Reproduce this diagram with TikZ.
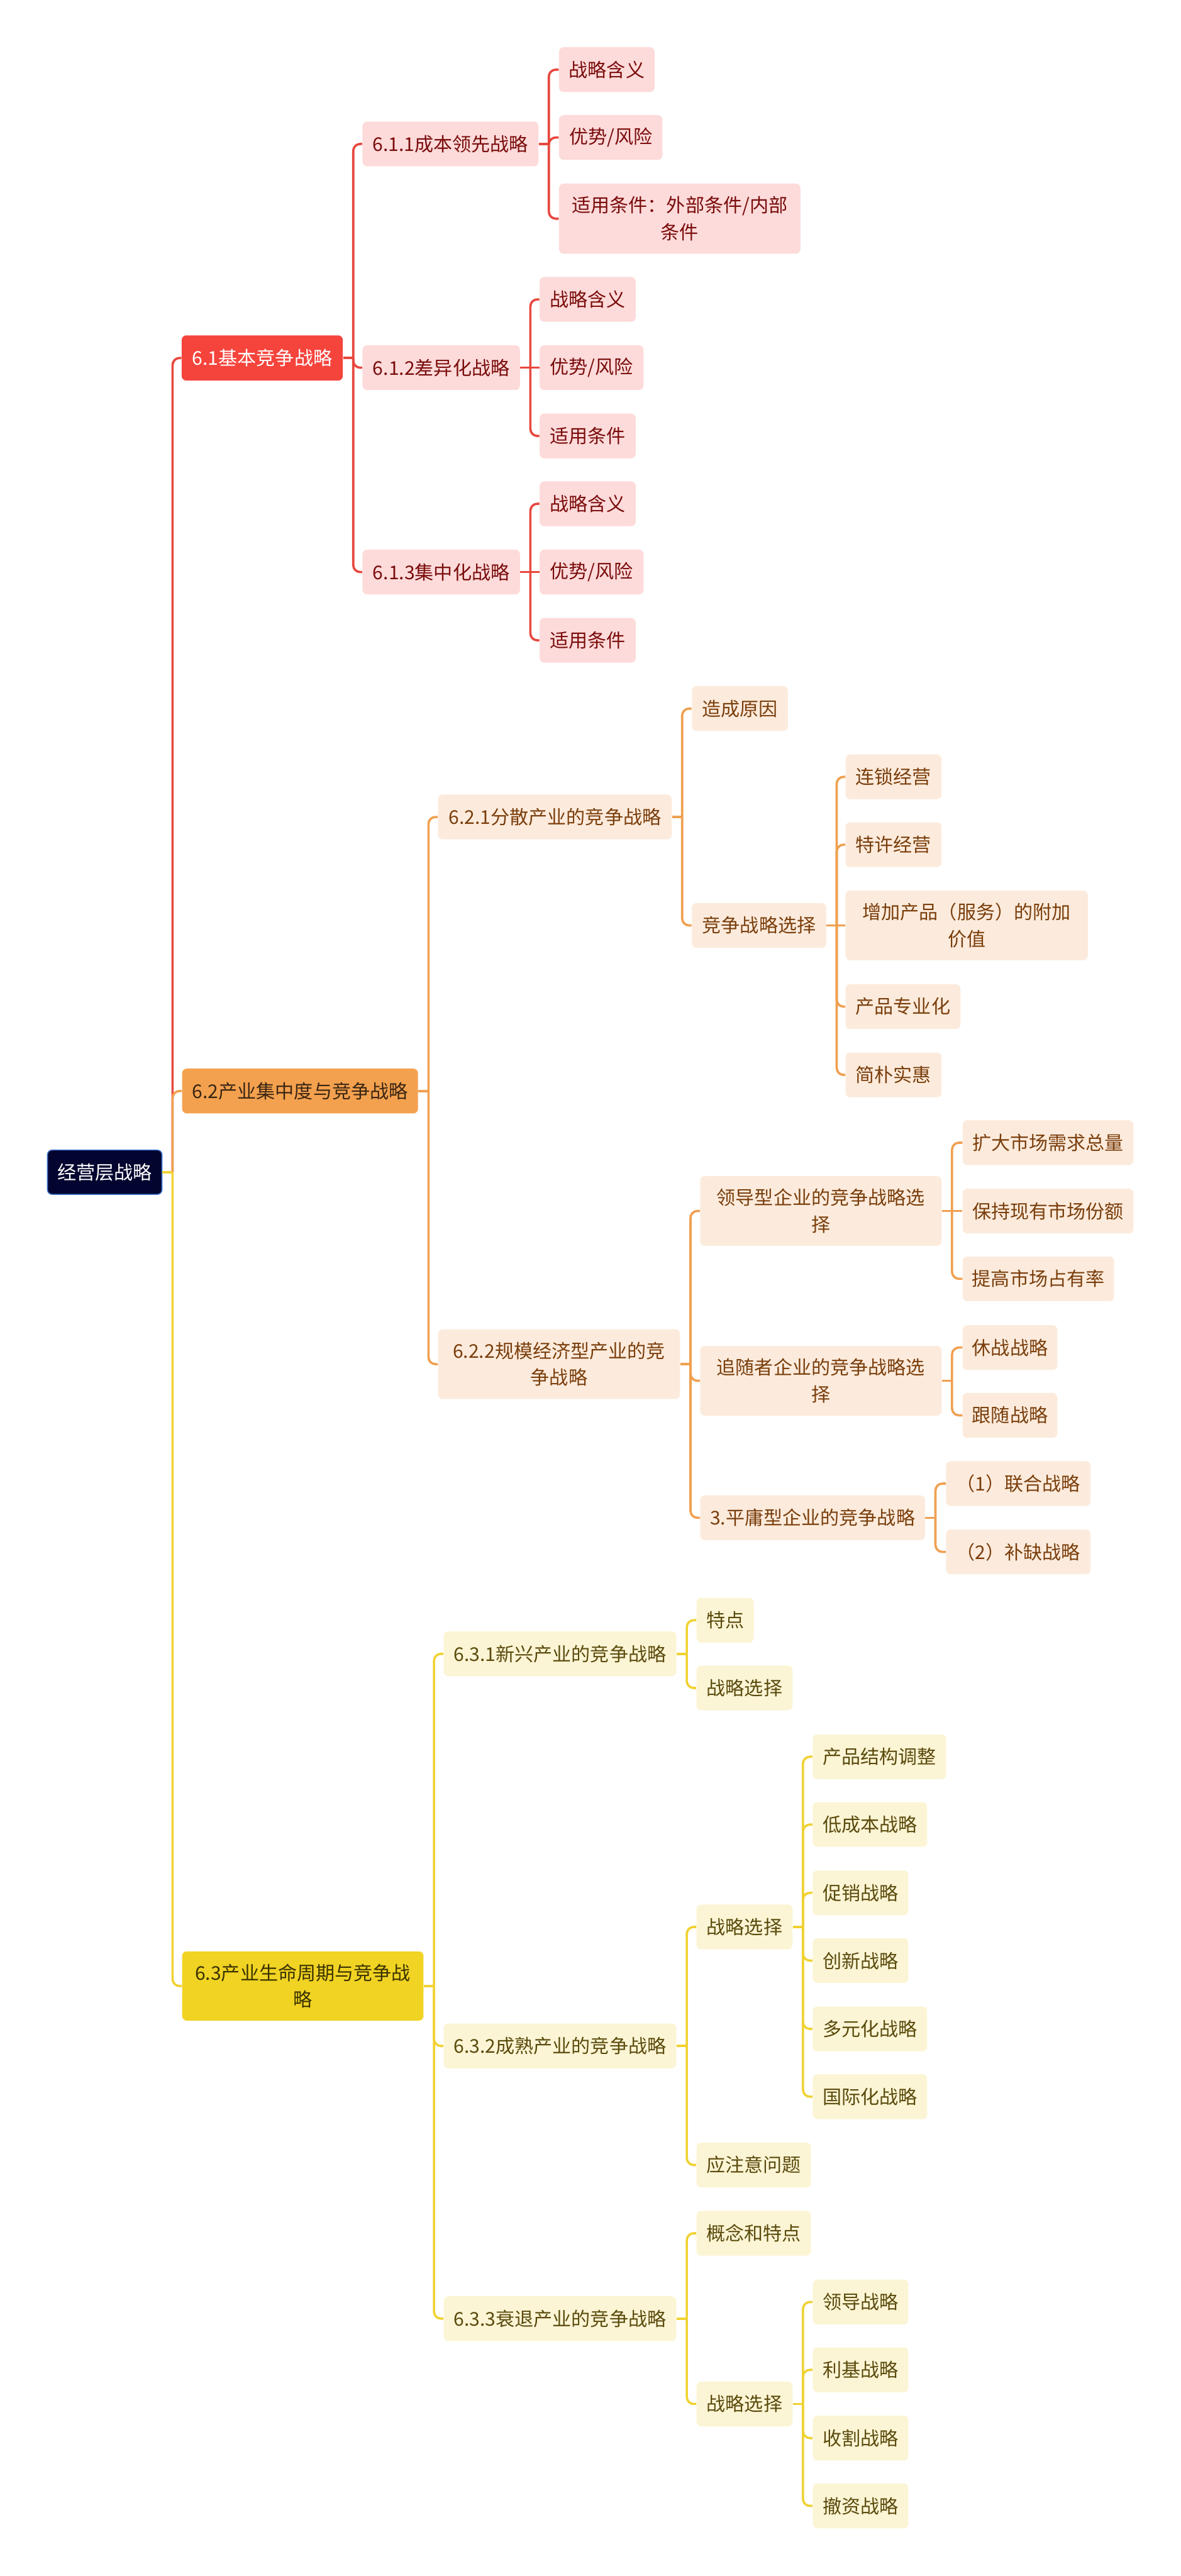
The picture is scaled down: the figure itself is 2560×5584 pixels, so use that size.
\documentclass[tikz,border=0pt]{standalone}
\usepackage{fontspec}
\newfontfamily\cjkfont{Noto Sans CJK SC}
\definecolor{rootfill}{HTML}{03042F}
\definecolor{rootborder}{HTML}{3D72CC}
\definecolor{redA}{HTML}{F5443C}
\definecolor{redL}{HTML}{FDDBDA}
\definecolor{redT}{HTML}{7A0C0C}
\definecolor{redLine}{HTML}{E8473E}
\definecolor{orgA}{HTML}{F4A14F}
\definecolor{orgAT}{HTML}{3A2612}
\definecolor{orgL}{HTML}{FCEBDC}
\definecolor{orgT}{HTML}{7A3E0C}
\definecolor{orgLine}{HTML}{F0A050}
\definecolor{yelA}{HTML}{F1D323}
\definecolor{yelAT}{HTML}{3A3200}
\definecolor{yelL}{HTML}{FCF5D5}
\definecolor{yelT}{HTML}{5A4A0C}
\definecolor{yelLine}{HTML}{F0D232}
\newcommand{\mystem}[2]{\coordinate (#2j) at ([xshift=0.22cm]#2.east); \draw[#1] (#2.east) -- (#2j);}
\newcommand{\mylink}[3]{\draw[#1] (#2j) |- (#3.west);}
\newcommand{\mystraight}[3]{\draw[#1] (#2j) -- (#3.west);}
\tikzset{
  basebox/.style={rounded corners=0.1cm, inner sep=0pt, align=center,
    font=\cjkfont\fontsize{11.67}{16.5}\selectfont},
  rootbox/.style={basebox, fill=rootfill, draw=rootborder, line width=0.6pt, text=white},
  redtop/.style={basebox, fill=redA, text=white},
  redsub/.style={basebox, fill=redL, text=redT},
  orgtop/.style={basebox, fill=orgA, text=orgAT},
  orgsub/.style={basebox, fill=orgL, text=orgT},
  yeltop/.style={basebox, fill=yelA, text=yelAT},
  yelsub/.style={basebox, fill=yelL, text=yelT},
  redln/.style={draw=redLine, line width=1.4pt, rounded corners=0.15cm},
  orgln/.style={draw=orgLine, line width=1.4pt, rounded corners=0.15cm},
  yelln/.style={draw=yelLine, line width=1.4pt, rounded corners=0.15cm},
}
\begin{document}
\begin{tikzpicture}[x=0.01cm, y=-0.01cm]
\fill[white] (0,0) rectangle (2560,5584);
\useasboundingbox (0,0) rectangle (2560,5584);

% root
\node[rootbox, minimum width=2.48cm, minimum height=0.96cm] (root) at (227,2541) {经营层战略};

% level 1
\node[redtop, minimum width=3.49cm, minimum height=0.98cm] (n61) at (568.5,776) {6.1基本竞争战略};
\node[orgtop, minimum width=5.11cm, minimum height=0.97cm] (n62) at (650.5,2365) {6.2产业集中度与竞争战略};
\node[yeltop, minimum width=5.23cm, minimum height=1.50cm] (n63) at (656.5,4305) {6.3产业生命周期与竞争战\\略};

% red branch
\node[redsub, minimum width=3.81cm, minimum height=0.97cm] (n611) at (976.5,312) {6.1.1成本领先战略};
\node[redsub, minimum width=3.41cm, minimum height=0.97cm] (n612) at (956.5,797) {6.1.2差异化战略};
\node[redsub, minimum width=3.41cm, minimum height=0.97cm] (n613) at (956.5,1240) {6.1.3集中化战略};
\node[redsub, minimum width=2.07cm, minimum height=0.97cm] (a1) at (1315.5,151) {战略含义};
\node[redsub, minimum width=2.24cm, minimum height=0.97cm] (a2) at (1324,298) {优势/风险};
\node[redsub, minimum width=5.23cm, minimum height=1.52cm] (a3) at (1473.5,474) {适用条件：外部条件/内部\\条件};
\node[redsub, minimum width=2.08cm, minimum height=0.97cm] (b1) at (1274,649) {战略含义};
\node[redsub, minimum width=2.25cm, minimum height=0.97cm] (b2) at (1282.5,797) {优势/风险};
\node[redsub, minimum width=2.08cm, minimum height=0.97cm] (b3) at (1274,945) {适用条件};
\node[redsub, minimum width=2.08cm, minimum height=0.97cm] (c1) at (1274,1092) {战略含义};
\node[redsub, minimum width=2.25cm, minimum height=0.97cm] (c2) at (1282.5,1240) {优势/风险};
\node[redsub, minimum width=2.08cm, minimum height=0.97cm] (c3) at (1274,1388) {适用条件};

% orange branch
\node[orgsub, minimum width=5.06cm, minimum height=0.97cm] (n621) at (1203,1771) {6.2.1分散产业的竞争战略};
\node[orgsub, minimum width=5.24cm, minimum height=1.51cm] (n622) at (1212,2957) {6.2.2规模经济型产业的竞\\争战略};
\node[orgsub, minimum width=2.08cm, minimum height=0.97cm] (o1) at (1604,1536) {造成原因};
\node[orgsub, minimum width=2.91cm, minimum height=0.97cm] (o2) at (1645.5,2006) {竞争战略选择};
\node[orgsub, minimum width=2.08cm, minimum height=0.97cm] (p1) at (1937,1684) {连锁经营};
\node[orgsub, minimum width=2.08cm, minimum height=0.97cm] (p2) at (1937,1831) {特许经营};
\node[orgsub, minimum width=5.25cm, minimum height=1.51cm] (p3) at (2095.5,2006) {增加产品（服务）的附加\\价值};
\node[orgsub, minimum width=2.49cm, minimum height=0.97cm] (p4) at (1957.5,2182) {产品专业化};
\node[orgsub, minimum width=2.08cm, minimum height=0.97cm] (p5) at (1937,2330) {简朴实惠};
\node[orgsub, minimum width=5.23cm, minimum height=1.51cm] (q1) at (1779.5,2625) {领导型企业的竞争战略选\\择};
\node[orgsub, minimum width=5.23cm, minimum height=1.51cm] (q2) at (1779.5,2993) {追随者企业的竞争战略选\\择};
\node[orgsub, minimum width=4.87cm, minimum height=0.97cm] (q3) at (1761.5,3290) {3.平庸型企业的竞争战略};
\node[orgsub, minimum width=3.70cm, minimum height=0.97cm] (r1) at (2272,2477) {扩大市场需求总量};
\node[orgsub, minimum width=3.70cm, minimum height=0.97cm] (r2) at (2272,2625) {保持现有市场份额};
\node[orgsub, minimum width=3.28cm, minimum height=0.97cm] (r3) at (2251,2772) {提高市场占有率};
\node[orgsub, minimum width=2.05cm, minimum height=0.97cm] (s1) at (2189.5,2921) {休战战略};
\node[orgsub, minimum width=2.05cm, minimum height=0.97cm] (s2) at (2189.5,3068) {跟随战略};
\node[orgsub, minimum width=3.13cm, minimum height=0.97cm] (t1) at (2207.5,3216) {（1）联合战略};
\node[orgsub, minimum width=3.13cm, minimum height=0.97cm] (t2) at (2207.5,3364) {（2）补缺战略};

% yellow branch
\node[yelsub, minimum width=5.04cm, minimum height=0.97cm] (n631) at (1214,3585) {6.3.1新兴产业的竞争战略};
\node[yelsub, minimum width=5.04cm, minimum height=0.97cm] (n632) at (1214,4435) {6.3.2成熟产业的竞争战略};
\node[yelsub, minimum width=5.04cm, minimum height=0.97cm] (n633) at (1214,5026) {6.3.3衰退产业的竞争战略};
\node[yelsub, minimum width=1.24cm, minimum height=0.97cm] (u1) at (1572,3512) {特点};
\node[yelsub, minimum width=2.08cm, minimum height=0.97cm] (u2) at (1614,3659) {战略选择};
\node[yelsub, minimum width=2.08cm, minimum height=0.97cm] (v1) at (1614,4177) {战略选择};
\node[yelsub, minimum width=2.48cm, minimum height=0.97cm] (v2) at (1634,4693) {应注意问题};
\node[yelsub, minimum width=2.89cm, minimum height=0.97cm] (w1) at (1906.5,3808) {产品结构调整};
\node[yelsub, minimum width=2.48cm, minimum height=0.97cm] (w2) at (1886,3955) {低成本战略};
\node[yelsub, minimum width=2.07cm, minimum height=0.97cm] (w3) at (1865.5,4103) {促销战略};
\node[yelsub, minimum width=2.07cm, minimum height=0.97cm] (w4) at (1865.5,4250) {创新战略};
\node[yelsub, minimum width=2.48cm, minimum height=0.97cm] (w5) at (1886,4398) {多元化战略};
\node[yelsub, minimum width=2.48cm, minimum height=0.97cm] (w6) at (1886,4545) {国际化战略};
\node[yelsub, minimum width=2.48cm, minimum height=0.97cm] (x1) at (1634,4841) {概念和特点};
\node[yelsub, minimum width=2.08cm, minimum height=0.97cm] (x2) at (1614,5211) {战略选择};
\node[yelsub, minimum width=2.07cm, minimum height=0.97cm] (z1) at (1865.5,4990) {领导战略};
\node[yelsub, minimum width=2.07cm, minimum height=0.97cm] (z2) at (1865.5,5137) {利基战略};
\node[yelsub, minimum width=2.07cm, minimum height=0.97cm] (z3) at (1865.5,5285) {收割战略};
\node[yelsub, minimum width=2.07cm, minimum height=0.97cm] (z4) at (1865.5,5432) {撤资战略};

% connectors: root
\coordinate (rootj) at ([xshift=0.22cm]root.east);
\mylink{redln}{root}{n61}
\mylink{orgln}{root}{n62}
\mylink{yelln}{root}{n63}
\draw[yelln] (root.east) -- (rootj);

% red
\mystem{redln}{n61}
\mylink{redln}{n61}{n611}
\mylink{redln}{n61}{n612}
\mylink{redln}{n61}{n613}
\mystem{redln}{n611}
\mylink{redln}{n611}{a1}
\mylink{redln}{n611}{a2}
\mylink{redln}{n611}{a3}
\mystem{redln}{n612}
\mylink{redln}{n612}{b1}
\mystraight{redln}{n612}{b2}
\mylink{redln}{n612}{b3}
\mystem{redln}{n613}
\mylink{redln}{n613}{c1}
\mystraight{redln}{n613}{c2}
\mylink{redln}{n613}{c3}

% orange
\mystem{orgln}{n62}
\mylink{orgln}{n62}{n621}
\mylink{orgln}{n62}{n622}
\mystem{orgln}{n621}
\mylink{orgln}{n621}{o1}
\mylink{orgln}{n621}{o2}
\mystem{orgln}{o2}
\mylink{orgln}{o2}{p1}
\mylink{orgln}{o2}{p2}
\mystraight{orgln}{o2}{p3}
\mylink{orgln}{o2}{p4}
\mylink{orgln}{o2}{p5}
\mystem{orgln}{n622}
\mylink{orgln}{n622}{q1}
\mylink{orgln}{n622}{q2}
\mylink{orgln}{n622}{q3}
\mystem{orgln}{q1}
\mylink{orgln}{q1}{r1}
\mystraight{orgln}{q1}{r2}
\mylink{orgln}{q1}{r3}
\mystem{orgln}{q2}
\mylink{orgln}{q2}{s1}
\mylink{orgln}{q2}{s2}
\mystem{orgln}{q3}
\mylink{orgln}{q3}{t1}
\mylink{orgln}{q3}{t2}

% yellow
\mystem{yelln}{n63}
\mylink{yelln}{n63}{n631}
\mylink{yelln}{n63}{n632}
\mylink{yelln}{n63}{n633}
\mystem{yelln}{n631}
\mylink{yelln}{n631}{u1}
\mylink{yelln}{n631}{u2}
\mystem{yelln}{n632}
\mylink{yelln}{n632}{v1}
\mylink{yelln}{n632}{v2}
\mystem{yelln}{v1}
\mylink{yelln}{v1}{w1}
\mylink{yelln}{v1}{w2}
\mylink{yelln}{v1}{w3}
\mylink{yelln}{v1}{w4}
\mylink{yelln}{v1}{w5}
\mylink{yelln}{v1}{w6}
\mystem{yelln}{n633}
\mylink{yelln}{n633}{x1}
\mylink{yelln}{n633}{x2}
\mystem{yelln}{x2}
\mylink{yelln}{x2}{z1}
\mylink{yelln}{x2}{z2}
\mylink{yelln}{x2}{z3}
\mylink{yelln}{x2}{z4}
\end{tikzpicture}
\end{document}
